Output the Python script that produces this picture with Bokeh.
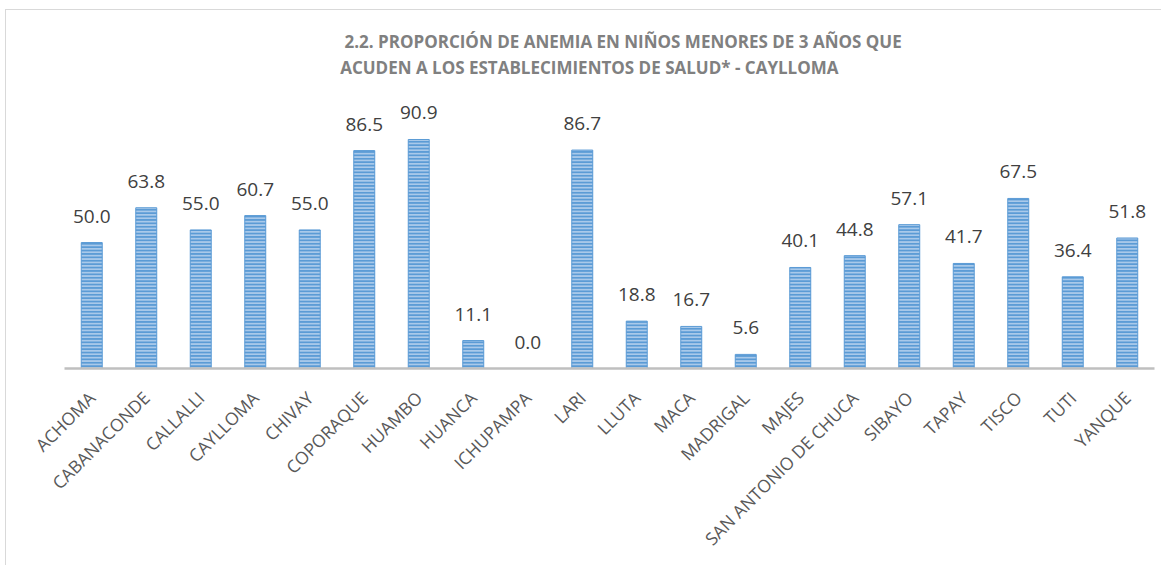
from bokeh.plotting import figure
from bokeh.models import ColumnDataSource, FactorRange, Range1d, LabelSet, Label
from bokeh.core.properties import value
from bokeh.embed import file_html
from bokeh.resources import INLINE
import math

categories = ["ACHOMA", "CABANACONDE", "CALLALLI", "CAYLLOMA", "CHIVAY", "COPORAQUE",
              "HUAMBO", "HUANCA", "ICHUPAMPA", "LARI", "LLUTA", "MACA", "MADRIGAL",
              "MAJES", "SAN ANTONIO DE CHUCA", "SIBAYO", "TAPAY", "TISCO", "TUTI", "YANQUE"]
values = [50.0, 63.8, 55.0, 60.7, 55.0, 86.5, 90.9, 11.1, 0.0, 86.7,
          18.8, 16.7, 5.6, 40.1, 44.8, 57.1, 41.7, 67.5, 36.4, 51.8]
title_lines = ["2.2.  PROPORCIÓN DE ANEMIA EN NIÑOS MENORES DE 3 AÑOS QUE",
               "ACUDEN A LOS ESTABLECIMIENTOS DE SALUD* - CAYLLOMA"]

src = ColumnDataSource(dict(cat=categories, val=values,
                            lbl=["%.1f" % v for v in values]))

p = figure(width=1156, height=556, output_backend="svg", toolbar_location=None,
           x_range=FactorRange(*categories, range_padding=0),
           y_range=Range1d(0, 142.1),
           min_border_left=58, min_border_right=8, min_border_top=0,
           min_border_bottom=198)
p.outline_line_color = None
p.background_fill_color = "white"
p.border_fill_color = "white"
p.grid.visible = False
p.yaxis.visible = False
p.styles = {"margin-left": "5px", "margin-top": "9px",
            "border-left": "1px solid #d9d9d9", "border-top": "1px solid #d9d9d9"}

p.vbar(x="cat", top="val", width=0.385, source=src,
       fill_color="#a9c9ea", line_color="#5b9bd5", line_width=1,
       hatch_pattern="horizontal_line", hatch_color="#5b9bd5",
       hatch_scale=3.4, hatch_weight=2.0)

xa = p.xaxis[0]
xa.axis_line_color = "#bfbfbf"
xa.axis_line_width = 2.5
xa.major_tick_line_color = None
xa.minor_tick_line_color = None
xa.major_tick_in = 0
xa.major_tick_out = 0
xa.major_label_orientation = math.pi / 4
xa.major_label_text_font = "Open Sans"
xa.major_label_text_font_size = "17.5px"
xa.major_label_text_color = "#595959"
xa.major_label_standoff = 26

labels = LabelSet(x="cat", y="val", text="lbl", source=src,
                  text_align="center", text_baseline="alphabetic", y_offset=20,
                  text_font=value("Open Sans"), text_font_size=value("19px"),
                  text_color="#404040")
p.add_layout(labels)

for txt, xx, yy in zip(title_lines, [10.29, 9.63], [129.6, 119.4]):
    p.add_layout(Label(x=xx, y=yy, text=txt, text_align="center",
                       text_baseline="alphabetic", text_font="Open Sans",
                       text_font_style="bold", text_font_size="17px",
                       text_color="#808080"))

open("out.html", "w").write(file_html(p, INLINE))
